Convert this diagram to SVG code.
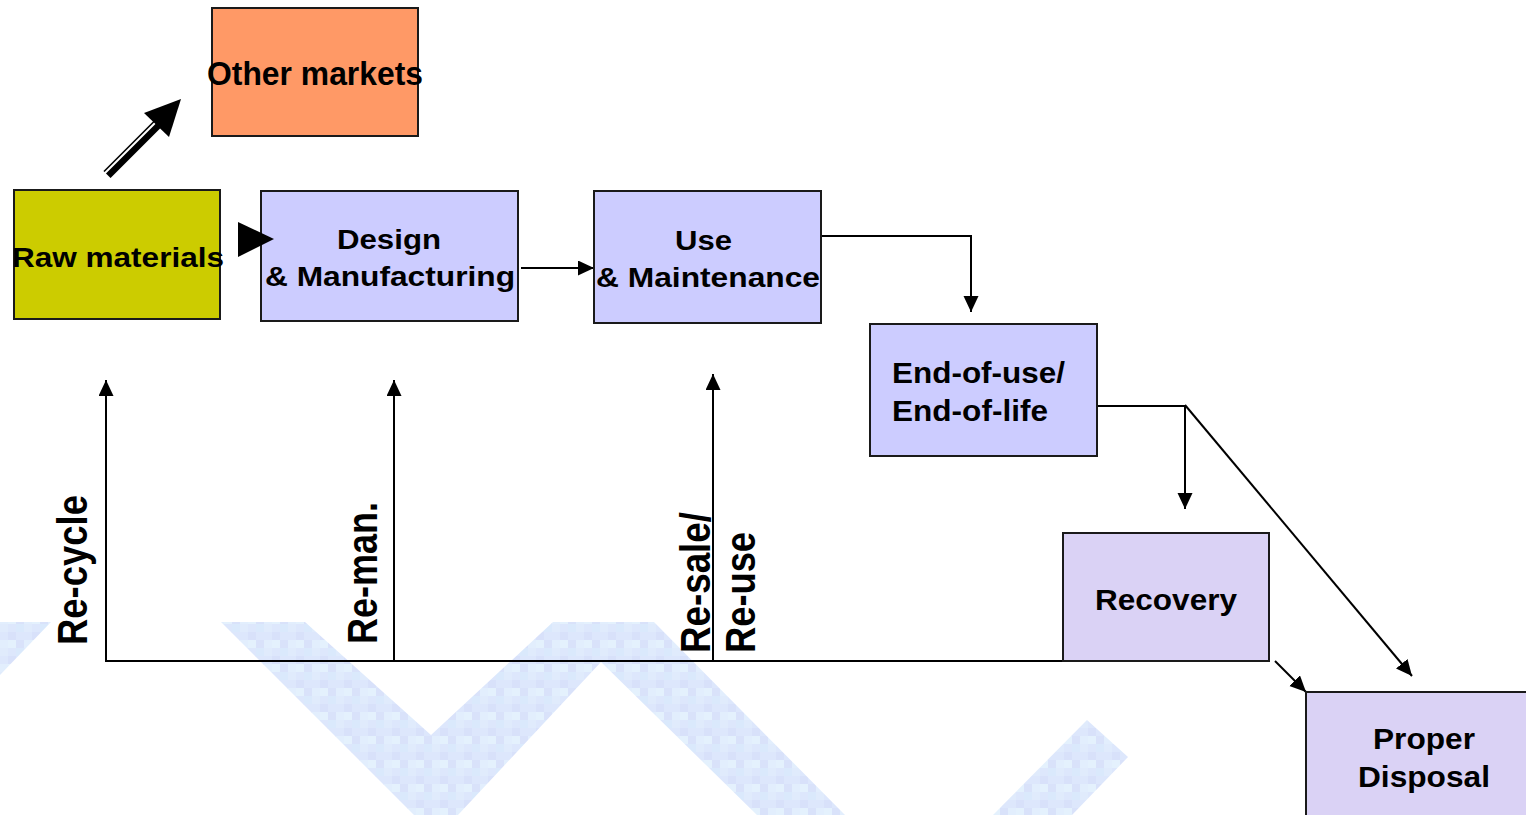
<svg xmlns="http://www.w3.org/2000/svg" width="1526" height="815" viewBox="0 0 1526 815">
<style>
.box{stroke:#1a1a1a;stroke-width:2}
.lbl{font-family:"Liberation Sans",Arial,sans-serif;font-weight:bold;fill:#000}
.ln{stroke:#000;stroke-width:2;fill:none}
</style>
<defs>
<marker id="ah" markerUnits="userSpaceOnUse" markerWidth="17" markerHeight="16" refX="16" refY="7.5" orient="auto">
<path d="M0,0 L16,7.5 L0,15 z" fill="#000"/>
</marker>
<pattern id="pix" patternUnits="userSpaceOnUse" width="24" height="24">
<rect width="24" height="24" fill="#DDE7FC"/>
<rect x="0" y="0" width="8" height="8" fill="#E0EBFC"/>
<rect x="8" y="8" width="8" height="8" fill="#D8E1FA"/>
<rect x="16" y="0" width="8" height="8" fill="#DAE9FC"/>
<rect x="0" y="16" width="8" height="8" fill="#E2EEFD"/>
<rect x="16" y="16" width="8" height="8" fill="#D9E2FA"/>
<rect x="8" y="16" width="8" height="8" fill="#E4F1FD"/>
</pattern>
</defs>
<rect width="1526" height="815" fill="#fff"/>
<g id="watermark" fill="url(#pix)">
<polygon points="0,622 51,622 0,675"/>
<polygon points="221,622 305,622 431,735 553,622 654,622 845,815 757,815 601,662 458,815 414,815"/>
<polygon points="1087,720 1128,757 1072,815 993,815"/>
</g>
<g id="connectors">
<line class="ln" x1="521" y1="268" x2="594" y2="268" marker-end="url(#ah)"/>
<polyline class="ln" points="821,236 971,236 971,312" marker-end="url(#ah)"/>
<polyline class="ln" points="1097,406 1185,406 1185,509" marker-end="url(#ah)"/>
<line class="ln" x1="1185" y1="405" x2="1412" y2="676" marker-end="url(#ah)"/>
<line class="ln" x1="1275" y1="661" x2="1306" y2="692" marker-end="url(#ah)"/>
<line class="ln" x1="105" y1="661" x2="1078" y2="661"/>
<line class="ln" x1="106" y1="661" x2="106" y2="380" marker-end="url(#ah)"/>
<line class="ln" x1="394" y1="661" x2="394" y2="380" marker-end="url(#ah)"/>
<line class="ln" x1="713" y1="661" x2="713" y2="374" marker-end="url(#ah)"/>
<line x1="107" y1="174.5" x2="158" y2="123.5" stroke="#000" stroke-width="10"/>
<line x1="104" y1="174" x2="156" y2="122" stroke="#fff" stroke-width="2"/>
<polygon points="181,99 144,113 169,137" fill="#000"/>
</g>
<g id="n-other">
<rect class="box" x="212" y="8" width="206" height="128" fill="#FF9966"/>
<text class="lbl" x="207" y="85" font-size="33" textLength="216" lengthAdjust="spacingAndGlyphs">Other markets</text>
</g>
<g id="n-raw">
<rect class="box" x="14" y="190" width="206" height="129" fill="#CCCC00"/>
<text class="lbl" x="12" y="267" font-size="28" textLength="212" lengthAdjust="spacingAndGlyphs">Raw materials</text>
</g>
<g id="n-design">
<rect class="box" x="261" y="191" width="257" height="130" fill="#CCCCFF"/>
<text class="lbl" x="337" y="249" font-size="28" textLength="104" lengthAdjust="spacingAndGlyphs">Design</text>
<text class="lbl" x="265" y="286" font-size="28" textLength="250" lengthAdjust="spacingAndGlyphs">&amp; Manufacturing</text>
</g>
<polygon id="raw-design-arrow" points="238,222 274,239 238,257" fill="#000"/>
<g id="n-use">
<rect class="box" x="594" y="191" width="227" height="132" fill="#CCCCFF"/>
<text class="lbl" x="675" y="250" font-size="28" textLength="57" lengthAdjust="spacingAndGlyphs">Use</text>
<text class="lbl" x="596" y="287" font-size="28" textLength="224" lengthAdjust="spacingAndGlyphs">&amp; Maintenance</text>
</g>
<g id="n-end">
<rect class="box" x="870" y="324" width="227" height="132" fill="#CCCCFF"/>
<text class="lbl" x="892" y="383" font-size="29" textLength="173" lengthAdjust="spacingAndGlyphs">End-of-use/</text>
<text class="lbl" x="892" y="421" font-size="29" textLength="156" lengthAdjust="spacingAndGlyphs">End-of-life</text>
</g>
<g id="n-recovery">
<rect class="box" x="1063" y="533" width="206" height="128" fill="#DAD2F5"/>
<text class="lbl" x="1095" y="610" font-size="30" textLength="142" lengthAdjust="spacingAndGlyphs">Recovery</text>
</g>
<g id="n-disposal">
<rect class="box" x="1306" y="692" width="240" height="140" fill="#DAD2F5"/>
<text class="lbl" x="1373" y="749" font-size="30" textLength="102" lengthAdjust="spacingAndGlyphs">Proper</text>
<text class="lbl" x="1358" y="787" font-size="30" textLength="132" lengthAdjust="spacingAndGlyphs">Disposal</text>
</g>
<g id="loop-labels">
<text class="lbl" font-size="36.5" transform="translate(87,645) scale(1.18,1) rotate(-90)" textLength="150" lengthAdjust="spacingAndGlyphs">Re-cycle</text>
<text class="lbl" font-size="36.5" transform="translate(377,644) scale(1.18,1) rotate(-90)" textLength="142" lengthAdjust="spacingAndGlyphs">Re-man.</text>
<text class="lbl" font-size="36.5" transform="translate(710,653) scale(1.18,1) rotate(-90)" textLength="141" lengthAdjust="spacingAndGlyphs">Re-sale/</text>
<text class="lbl" font-size="36.5" transform="translate(755,653) scale(1.18,1) rotate(-90)" textLength="121" lengthAdjust="spacingAndGlyphs">Re-use</text>
</g>
</svg>
